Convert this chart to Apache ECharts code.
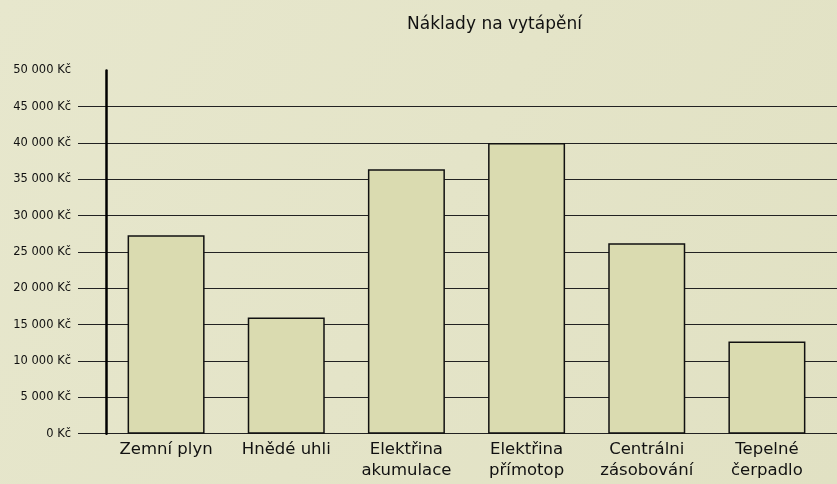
<!DOCTYPE html>
<html>
<head>
<meta charset="utf-8">
<script src="https://cdn.jsdelivr.net/npm/echarts@6/dist/echarts.min.js"></script>
<style>
  html, body { margin: 0; padding: 0; }
  #chart { width: 837px; height: 484px; }
</style>
</head>
<body>
<div id="chart"></div>
<script>
// kategorie a hodnoty (Kč)
const categories = ['Zemní plyn', 'Hnědé uhli', 'Elektřina\nakumulace', 'Elektřina\npřímotop', 'Centrálni\nzásobování', 'Tepelné\nčerpadlo']
const costs = [27300, 16000, 36400, 40000, 26200, 12700]
const yMin = 0
const yMax = 50000
const yStep = 5000

const font = 'DejaVu Sans'

const chart = echarts.init(document.getElementById('chart'))
chart.setOption({
  backgroundColor: {
    type: 'linear', x: 0, y: 0, x2: 1, y2: 1,
    colorStops: [
      { offset: 0, color: '#e7e7cd' },
      { offset: 1, color: '#e1e1c3' }
    ]
  },
  animation: false,
  title: {
    text: 'Náklady na vytápění',
    left: 402,
    top: 11,
    textStyle: { fontFamily: font, fontSize: 17, fontWeight: 'normal', color: '#111' }
  },
  grid: [
    // jen vodorovné čáry (přesahují osu)
    { left: 78, right: 0, top: 70.4, bottom: 50.3 },
    // sloupce
    { left: 106, right: 10, top: 70.4, bottom: 50.3 }
  ],
  xAxis: [
    { gridIndex: 0, type: 'category', data: categories, show: false },
    {
      gridIndex: 1,
      type: 'category',
      data: categories,
      axisLine: { show: false },
      axisTick: { show: false },
      axisLabel: {
        interval: 0,
        margin: 6,
        verticalAlign: 'top',
        fontFamily: font,
        fontSize: 16.5,
        lineHeight: 21,
        color: '#111'
      }
    }
  ],
  yAxis: [
    {
      gridIndex: 0,
      type: 'value',
      min: yMin, max: yMax, interval: yStep,
      axisLine: { show: false },
      axisTick: { show: false },
      axisLabel: { show: false },
      splitLine: { show: true, showMaxLine: false, lineStyle: { color: '#222', width: 1.2 } }
    },
    {
      gridIndex: 1,
      type: 'value',
      min: yMin, max: yMax, interval: yStep,
      axisLine: { show: true, lineStyle: { color: '#000', width: 2.5 } },
      axisTick: { show: false },
      splitLine: { show: false },
      axisLabel: {
        margin: 35,
        fontFamily: font,
        fontSize: 11.5,
        color: '#111',
        padding: [0, 0, 5, 0],
        formatter: v => v.toLocaleString('cs-CZ').replace(/\s/g, ' ') + ' Kč'
      }
    }
  ],
  series: [
    {
      type: 'bar',
      xAxisIndex: 1,
      yAxisIndex: 1,
      data: costs,
      barWidth: 77,
      itemStyle: { color: '#dadbb0', borderColor: '#111', borderWidth: 1.5 }
    }
  ]
})
</script>
</body>
</html>
